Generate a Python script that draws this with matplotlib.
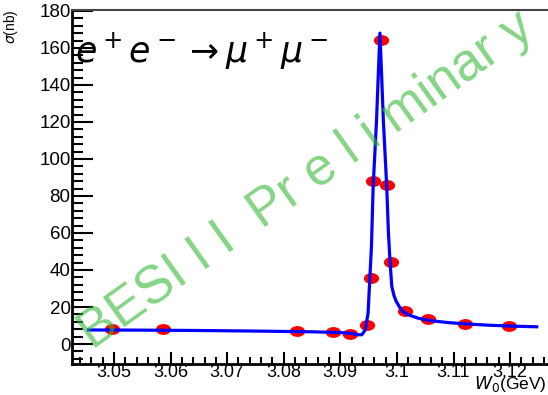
import matplotlib
matplotlib.use("Agg")
import matplotlib.pyplot as plt
from matplotlib.path import Path
from matplotlib.ticker import MultipleLocator
import matplotlib.transforms as mtransforms

# measured points
sqrt_s = [3.0497, 3.0587, 3.0823, 3.0887, 3.0917, 3.0947, 3.0954, 3.0958,
          3.0972, 3.0982, 3.0990, 3.1014, 3.1055, 3.1120, 3.1198]
xsec = [8.0, 8.0, 7.0, 6.5, 5.6, 10.3, 35.6, 88.3, 164.5, 86.0, 44.2,
        17.8, 13.5, 10.8, 9.7]

# fit curve
fit_x = [3.0455, 3.0550, 3.0650, 3.0750, 3.0850, 3.0900, 3.0920, 3.0931,
         3.0938, 3.0944, 3.0949, 3.0952, 3.0955, 3.0958, 3.0961, 3.0964,
         3.0967, 3.0970, 3.0973, 3.0976, 3.0979, 3.0982, 3.0985, 3.0988,
         3.0991, 3.0995, 3.0999, 3.1005, 3.1011, 3.1020, 3.1038, 3.1060,
         3.1090, 3.1120, 3.1160, 3.1200, 3.1247]
fit_y = [7.6, 7.5, 7.3, 7.0, 6.6, 6.2, 5.7, 5.0, 5.0, 7.6, 16.6, 34.6,
         52.6, 85.0, 103.0, 121.0, 145.0, 168.0, 145.0, 121.0, 103.0,
         85.0, 60.0, 43.6, 31.0, 26.0, 22.9, 19.8, 17.5, 15.8, 13.9, 12.6,
         11.6, 10.9, 10.2, 9.7, 9.3]

plt.rcParams['font.family'] = ['Liberation Sans', 'DejaVu Sans']
plt.rcParams['mathtext.fontset'] = 'dejavusans'

fig = plt.figure(figsize=(5.48, 3.95), dpi=100)
ax = fig.add_axes([72/548, 31/395, 476/548, 354/395])

ax.plot(fit_x, fit_y, color='#0000ff', lw=2.3, zorder=3, solid_joinstyle='round')

# elliptical marker
ell = Path.unit_circle().transformed(mtransforms.Affine2D().scale(1.0, 0.68))
ax.plot(sqrt_s, xsec, ls='none', marker=ell, ms=10, color='#ff0000',
        mec='#ff0000', zorder=2)

ax.set_xlim(3.04258, 3.1267)
ax.set_ylim(-10.8, 180.5)

ax.xaxis.set_major_locator(MultipleLocator(0.01))
ax.xaxis.set_minor_locator(MultipleLocator(0.002))
ax.yaxis.set_major_locator(MultipleLocator(20))
ax.yaxis.set_minor_locator(MultipleLocator(4))
ax.xaxis.set_major_formatter(matplotlib.ticker.FuncFormatter(
    lambda v, p: ('%.2f' % v).rstrip('0').rstrip('.') if abs(v*100 - round(v*100)) < 1e-6 else ''))

ax.tick_params(axis='both', which='both', direction='in', labelsize=13.5,
               width=1.5, colors='black')
ax.tick_params(axis='x', labelsize=13)
ax.tick_params(axis='y', which='major', length=15, pad=1)
ax.tick_params(axis='y', which='minor', length=8)
ax.tick_params(axis='x', which='major', length=9, pad=0)
ax.tick_params(axis='x', which='minor', length=5)

ax.spines['left'].set_linewidth(2)
ax.spines['bottom'].set_linewidth(2)
ax.spines['top'].set_linewidth(1.5)
ax.spines['top'].set_color('#444444')
ax.spines['right'].set_visible(False)

fig.text(75/548, 1 - 62/395, r'$e^+e^-\rightarrow\mu^+\mu^-$', fontsize=25,
         ha='left', va='baseline')
fig.text(11/548, 1 - 9/395, r'$\sigma$(nb)', rotation=90, fontsize=10,
         ha='center', va='top')
fig.text(547/548, 0.5/395, r'$W_0$(GeV)', fontsize=12.5, ha='right',
         va='bottom')

fig.text(306/548, 1 - 180/395, 'BESI I I  Pr e l i minar y', fontsize=38,
         rotation=35.5, color=(0.2, 0.72, 0.2), alpha=0.6, ha='center',
         va='center', rotation_mode='anchor', zorder=10)

fig.savefig('out.png', dpi=100)
